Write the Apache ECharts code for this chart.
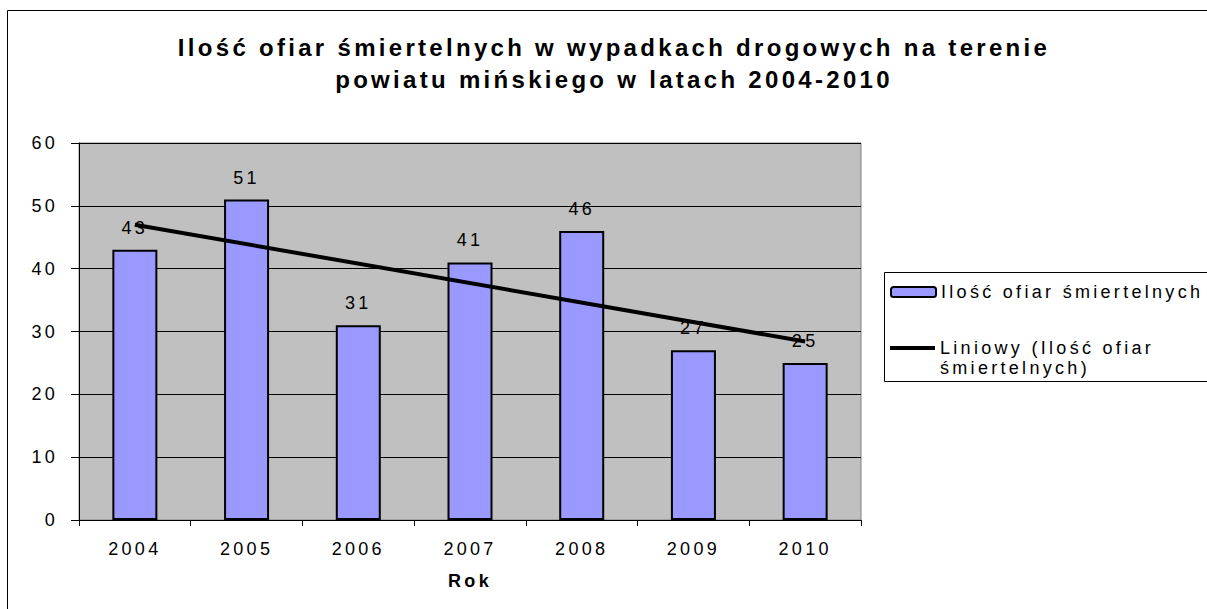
<!DOCTYPE html>
<html>
<head>
<meta charset="utf-8">
<script src="https://cdn.jsdelivr.net/npm/echarts@6/dist/echarts.min.js"></script>
<style>
  html, body { margin: 0; padding: 0; background: #fff; }
  #chart { width: 1207px; height: 609px; }
  /* Excel-style wide letter spacing */
  #chart text { letter-spacing: 3.3px; }
</style>
</head>
<body>
<div id="chart"></div>
<script>
// lata
var years = ['2004', '2005', '2006', '2007', '2008', '2009', '2010'];
// ilość ofiar śmiertelnych
var victims = [43, 51, 31, 41, 46, 27, 25];
// linia trendu (początek 2004, koniec 2010)
var trendYears = ['2004', '2010'];
var trendValues = [47.0, 28.4];
var yTicks = [0, 10, 20, 30, 40, 50, 60];

var barName = 'Ilość ofiar śmiertelnych';
var trendName = 'Liniowy (Ilość ofiar śmiertelnych)';
var font = 'Liberation Sans, Arial, sans-serif';

var chart = echarts.init(document.getElementById('chart'), null, { renderer: 'svg' });

chart.setOption({
  animation: false,
  backgroundColor: '#fff',
  textStyle: { fontFamily: font, color: '#000' },
  title: {
    text: 'Ilość ofiar śmiertelnych w wypadkach drogowych na terenie\npowiatu mińskiego w latach 2004-2010',
    left: 614,
    top: 31,
    padding: 0,
    textAlign: 'center',
    textStyle: {
      fontFamily: font,
      fontSize: 24,
      fontWeight: 'bold',
      color: '#000',
      lineHeight: 32
    }
  },
  graphic: [
    {
      type: 'rect',
      shape: { x: 7.5, y: 10.5, width: 1300, height: 700 },
      style: { fill: 'none', stroke: '#000', lineWidth: 1 },
      silent: true
    },
    {
      type: 'rect',
      shape: { x: 884.5, y: 272.5, width: 400, height: 109 },
      style: { fill: 'none', stroke: '#000', lineWidth: 1 },
      silent: true
    }
  ],
  legend: [
    {
      data: [barName],
      left: 890,
      top: 283,
      padding: 0,
      itemWidth: 45,
      itemHeight: 10,
      textStyle: { fontFamily: font, fontSize: 18, color: '#000' }
    },
    {
      data: [{ name: trendName, icon: 'rect', itemStyle: { color: '#000', borderWidth: 0 } }],
      left: 890,
      top: 318,
      padding: 0,
      itemWidth: 45,
      itemHeight: 4,
      formatter: function (name) {
        // pusty pierwszy wiersz: ikona wypada na wysokości "Liniowy"
        return name === trendName ? ' \nLiniowy (Ilość ofiar\nśmiertelnych)' : name;
      },
      textStyle: {
        fontFamily: font, fontSize: 18, color: '#000',
        lineHeight: 20
      }
    }
  ],
  grid: {
    left: 79,
    right: 346,
    top: 143,
    bottom: 89,
    show: true,
    backgroundColor: '#C0C0C0',
    borderColor: '#808080',
    borderWidth: 1
  },
  xAxis: {
    type: 'category',
    data: years,
    boundaryGap: true,
    name: 'Rok',
    nameLocation: 'middle',
    nameGap: 52,
    nameTextStyle: { fontFamily: font, fontSize: 18, fontWeight: 'bold', color: '#000' },
    axisLine: { show: true, lineStyle: { color: '#000', width: 1 } },
    axisTick: { show: true, length: 6, lineStyle: { color: '#000' } },
    axisLabel: { fontFamily: font, fontSize: 18, color: '#000', margin: 20 },
    splitLine: { show: false }
  },
  yAxis: {
    type: 'value',
    min: 0,
    max: 60,
    interval: 10,
    axisLine: { show: true, lineStyle: { color: '#000', width: 1 } },
    axisTick: { show: true, length: 8, lineStyle: { color: '#000' } },
    axisLabel: {
      fontFamily: font, fontSize: 18, color: '#000', margin: 21,
      formatter: function (v) { return yTicks.indexOf(v) >= 0 ? String(v) : ''; }
    },
    splitLine: { show: true, lineStyle: { color: '#000', width: 1 } }
  },
  series: [
    {
      name: barName,
      type: 'bar',
      data: victims,
      barWidth: 45,
      itemStyle: { color: '#9999FF', borderColor: '#000', borderWidth: 2 },
      label: {
        show: true,
        position: 'top',
        distance: 13,
        fontFamily: font,
        fontSize: 18,
        color: '#000'
      },
      z: 2
    },
    {
      name: trendName,
      type: 'line',
      data: trendYears.map(function (y, i) { return [y, trendValues[i]]; }),
      symbol: 'none',
      lineStyle: { color: '#000', width: 4 },
      itemStyle: { color: '#000' },
      z: 5
    }
  ]
});
</script>
</body>
</html>
